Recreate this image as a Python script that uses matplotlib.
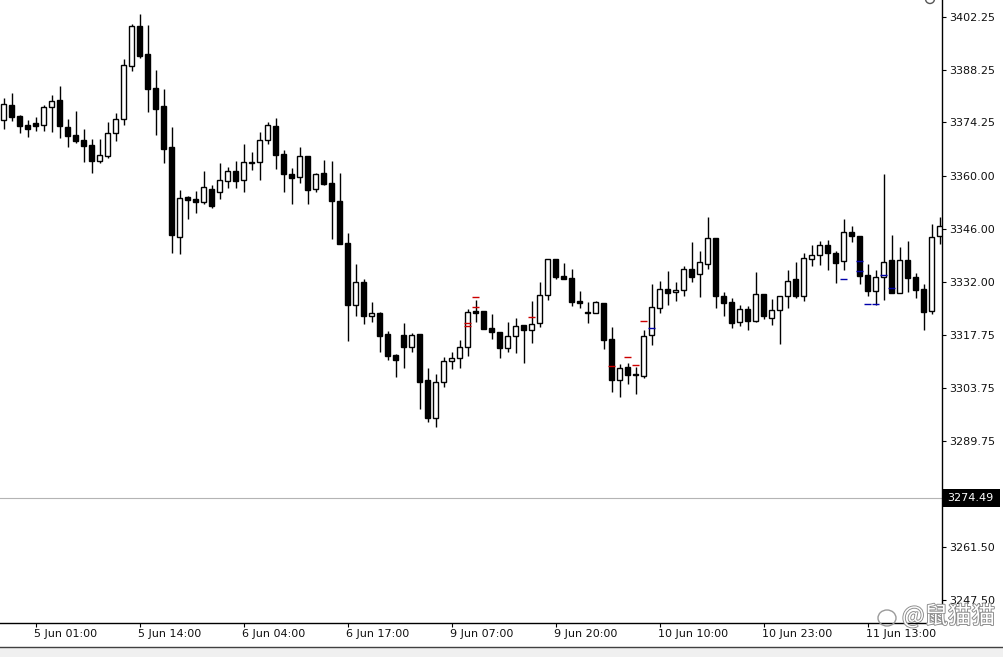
import numpy as np
import matplotlib
matplotlib.use("Agg")
import matplotlib.pyplot as plt
import matplotlib.patheffects as pe
from matplotlib.patches import Rectangle, Ellipse
from matplotlib.lines import Line2D

# hourly XAU candles, index 0..117
opens = [3374.8, 3378.9, 3376.0, 3373.6, 3374.1, 3373.5, 3378.3, 3380.2, 3373.0, 3370.9,
         3369.6, 3368.3, 3364.1, 3365.4, 3371.4, 3375.1, 3389.2, 3399.9, 3392.4, 3383.4,
         3378.6, 3367.8, 3343.9, 3354.5, 3353.9, 3353.2, 3356.6, 3355.7, 3358.8, 3361.4,
         3359.0, 3363.6, 3363.7, 3369.5, 3373.3, 3365.9, 3360.7, 3359.9, 3365.3, 3356.7,
         3360.8, 3358.1, 3353.4, 3342.2, 3325.7, 3331.8, 3322.8, 3323.8, 3318.0, 3312.4,
         3317.8, 3314.6, 3318.2, 3305.9, 3295.7, 3305.3, 3310.8, 3311.6, 3314.7, 3324.3,
         3324.2, 3319.7, 3318.6, 3314.4, 3317.5, 3320.5, 3319.2, 3320.9, 3328.4, 3338.0,
         3333.5, 3332.9, 3326.9, 3324.0, 3323.6, 3326.3, 3316.7, 3305.9, 3309.3, 3307.5,
         3307.0, 3317.9, 3325.1, 3330.0, 3329.2, 3329.7, 3335.3, 3333.9, 3336.6, 3343.5,
         3328.1, 3326.6, 3321.4, 3324.7, 3321.5, 3328.7, 3322.3, 3324.4, 3328.1, 3332.7,
         3328.1, 3337.9, 3339.2, 3341.6, 3339.5, 3337.4, 3345.1, 3344.0, 3333.7, 3329.6,
         3333.1, 3337.7, 3329.1, 3337.7, 3333.1, 3330.0, 3324.3, 3344.1]
highs = [3380.8, 3382.2, 3376.2, 3374.9, 3375.7, 3378.9, 3381.6, 3383.9, 3375.2, 3377.4,
         3372.5, 3369.8, 3369.9, 3374.4, 3376.8, 3391.1, 3400.3, 3403.0, 3400.0, 3388.2,
         3383.1, 3373.1, 3356.3, 3354.6, 3356.1, 3361.4, 3357.6, 3363.5, 3362.5, 3364.0,
         3368.6, 3366.4, 3371.7, 3374.4, 3375.4, 3366.9, 3362.2, 3367.7, 3365.3, 3360.8,
         3364.3, 3364.0, 3360.8, 3344.8, 3336.6, 3332.6, 3326.5, 3323.9, 3318.8, 3312.9,
         3320.9, 3318.4, 3318.2, 3309.2, 3307.4, 3311.9, 3313.3, 3316.5, 3324.8, 3327.1,
         3324.2, 3323.4, 3318.6, 3321.4, 3322.3, 3320.5, 3326.8, 3331.9, 3338.0, 3338.0,
         3336.9, 3335.3, 3329.6, 3326.7, 3326.9, 3326.3, 3319.9, 3310.1, 3310.3, 3309.3,
         3319.1, 3331.4, 3332.2, 3334.8, 3331.9, 3336.1, 3342.5, 3340.1, 3349.1, 3343.5,
         3329.2, 3327.6, 3325.7, 3325.5, 3334.6, 3328.7, 3327.4, 3328.1, 3335.1, 3337.2,
         3339.6, 3341.7, 3342.8, 3343.0, 3340.1, 3348.6, 3346.8, 3344.0, 3336.6, 3335.1,
         3360.6, 3344.4, 3341.2, 3342.8, 3334.4, 3331.4, 3347.3, 3349.2]
lows = [3372.5, 3374.7, 3371.5, 3370.5, 3372.1, 3372.1, 3371.8, 3370.2, 3367.8, 3368.9,
        3363.8, 3360.9, 3363.6, 3364.9, 3369.4, 3373.6, 3388.0, 3391.4, 3377.1, 3371.0,
        3363.6, 3339.5, 3339.3, 3348.7, 3350.3, 3352.6, 3351.5, 3354.0, 3356.9, 3356.9,
        3355.9, 3361.6, 3359.0, 3368.6, 3361.9, 3355.8, 3352.5, 3358.1, 3352.6, 3355.7,
        3357.7, 3343.4, 3342.1, 3316.3, 3323.0, 3320.7, 3321.2, 3313.4, 3311.1, 3306.8,
        3309.2, 3313.2, 3298.1, 3294.8, 3293.3, 3303.9, 3308.9, 3309.1, 3312.2, 3321.4,
        3319.5, 3316.7, 3311.8, 3313.4, 3313.0, 3310.4, 3315.8, 3320.0, 3327.1, 3332.8,
        3332.6, 3325.5, 3324.9, 3321.1, 3323.6, 3314.1, 3302.8, 3301.4, 3304.9, 3302.3,
        3306.5, 3315.2, 3323.7, 3325.9, 3326.9, 3328.2, 3332.0, 3328.0, 3335.3, 3325.1,
        3322.9, 3319.8, 3320.3, 3319.2, 3321.2, 3322.2, 3320.6, 3315.4, 3325.0, 3327.6,
        3326.8, 3336.2, 3336.4, 3335.2, 3331.7, 3335.1, 3342.4, 3331.3, 3328.2, 3325.9,
        3327.2, 3328.9, 3329.1, 3329.3, 3327.7, 3319.2, 3323.5, 3342.1]
closes = [3379.1, 3375.8, 3373.4, 3372.6, 3373.4, 3378.3, 3379.9, 3373.4, 3370.7, 3369.4,
          3368.1, 3364.1, 3365.5, 3371.4, 3375.2, 3389.5, 3399.9, 3392.0, 3383.1, 3377.9,
          3367.3, 3344.5, 3354.1, 3353.8, 3353.2, 3357.1, 3352.0, 3358.9, 3361.4, 3358.8,
          3363.7, 3363.7, 3369.6, 3373.6, 3365.7, 3360.7, 3359.4, 3365.3, 3356.4, 3360.6,
          3357.8, 3353.3, 3342.1, 3325.7, 3331.8, 3322.8, 3323.6, 3317.5, 3312.3, 3311.1,
          3314.6, 3317.8, 3305.3, 3295.7, 3305.3, 3310.9, 3311.6, 3314.6, 3323.9, 3323.7,
          3319.5, 3318.5, 3314.4, 3317.5, 3320.1, 3319.2, 3320.7, 3328.4, 3338.0, 3333.3,
          3332.6, 3326.7, 3326.4, 3323.6, 3326.5, 3316.5, 3305.9, 3309.2, 3307.3, 3307.1,
          3317.5, 3325.2, 3330.0, 3329.1, 3329.8, 3335.3, 3333.3, 3337.1, 3343.5, 3328.2,
          3326.4, 3321.1, 3324.7, 3321.5, 3328.6, 3323.0, 3324.4, 3328.1, 3332.2, 3328.2,
          3338.2, 3339.2, 3341.6, 3339.5, 3337.0, 3345.1, 3344.0, 3333.6, 3329.6, 3333.1,
          3337.1, 3328.9, 3337.7, 3333.0, 3329.8, 3324.0, 3343.8, 3346.7]

# trade level marks (bar index, price)
red_idx = [58, 58, 59, 59, 66, 76, 78, 79, 80]
red_px = [3321.1, 3320.2, 3327.9, 3325.2, 3322.6, 3309.5, 3312.0, 3310.0, 3321.5]
blue_idx = [81, 105, 107, 107, 108, 109, 110, 111]
blue_px = [3319.6, 3332.7, 3337.5, 3334.8, 3326.0, 3326.0, 3333.7, 3330.2]

tick_idx = [4, 17, 30, 43, 56, 69, 82, 95, 108]
tick_lbl = ["5 Jun 01:00", "5 Jun 14:00", "6 Jun 04:00", "6 Jun 17:00", "9 Jun 07:00",
            "9 Jun 20:00", "10 Jun 10:00", "10 Jun 23:00", "11 Jun 13:00"]
price_ticks = [3402.25, 3388.25, 3374.25, 3360.00, 3346.00, 3332.00, 3317.75,
               3303.75, 3289.75, 3261.50, 3247.50]
last_price = 3274.49

W, H = 1004, 657
fig = plt.figure(figsize=(W / 100, H / 100), dpi=100)
fig.patch.set_facecolor("white")
ax = fig.add_axes([0, (H - 623) / H, 942 / W, 623 / H])
ax.set_facecolor("white")

x = np.arange(len(opens))
o = np.array(opens); c = np.array(closes)
ax.vlines(x, lows, highs, color="black", lw=1.0, zorder=2)
up = c >= o
ax.bar(x[up], c[up] - o[up], bottom=o[up], width=0.6, facecolor="white",
       edgecolor="black", lw=1.0, zorder=3)
ax.bar(x[~up], o[~up] - c[~up], bottom=c[~up], width=0.6, facecolor="black",
       edgecolor="black", lw=1.0, zorder=3)

ax.hlines(red_px, np.array(red_idx) - 0.42, np.array(red_idx) + 0.42, color="#cc0000", lw=1.0, zorder=4)
ax.hlines(blue_px, np.array(blue_idx) - 0.42, np.array(blue_idx) + 0.42, color="#0000aa", lw=1.0, zorder=4)

ax.axhline(last_price, color="#b4b4b4", lw=0.8, zorder=1)

ax.set_xlim(-3.5 / 8, -3.5 / 8 + 942 / 8)
ax.set_ylim(3241.38, 3406.76)

for s in ["left", "top"]:
    ax.spines[s].set_visible(False)
for s in ["right", "bottom"]:
    ax.spines[s].set_color("black")
    ax.spines[s].set_linewidth(1.0)

ax.yaxis.tick_right()
ax.set_yticks(price_ticks)
ax.set_yticklabels(["%.2f" % p for p in price_ticks])
ax.tick_params(axis="y", direction="out", length=3, width=0.8, pad=2,
               labelsize=8, labelcolor="#111111")
ax.set_xticks(tick_idx)
ax.set_xticklabels(tick_lbl, ha="left")
ax.tick_params(axis="x", direction="out", length=3, width=0.8, pad=1,
               labelsize=8, labelcolor="#111111")
for lab in ax.get_xticklabels():
    lab.set_transform(lab.get_transform() + matplotlib.transforms.ScaledTranslation(-1 / 100, 0, fig.dpi_scale_trans))

# current price tag
fig.patches.append(Rectangle((943 / W, (H - 507) / H), 57 / W, 18 / H, transform=fig.transFigure,
                             facecolor="black", edgecolor="none", zorder=5))
fig.text(947 / W, (H - 498) / H, "3274.49", fontsize=8, color="white",
         ha="left", va="center", zorder=6)

# bottom status strip
fig.patches.append(Rectangle((0, 0), 1, 10 / H, transform=fig.transFigure,
                             facecolor="#f0f0f0", edgecolor="none"))
fig.lines.append(Line2D([0, 1], [10.5 / H, 10.5 / H], transform=fig.transFigure,
                        color="#404040", lw=1.0))

# top-right small icon (clipped)
fig.patches.append(Ellipse((930 / W, (H + 1) / H), 9 / W, 9 / H, transform=fig.transFigure,
                           facecolor="none", edgecolor="#555555", lw=1.0))

# watermark
fig.patches.append(Ellipse((887 / W, (H - 618) / H), 18 / W, 16 / H, transform=fig.transFigure,
                           facecolor="none", edgecolor="#9a9a9a", lw=1.0, zorder=0))
fig.text(902 / W, (H - 616) / H, "@鼠猫猫", fontsize=17, color="white",
         family=["Noto Sans CJK SC", "DejaVu Sans"], ha="left", va="center", zorder=0,
         path_effects=[pe.withStroke(linewidth=1.3, foreground="#8a8a8a")])

fig.savefig("out.png", dpi=100)
